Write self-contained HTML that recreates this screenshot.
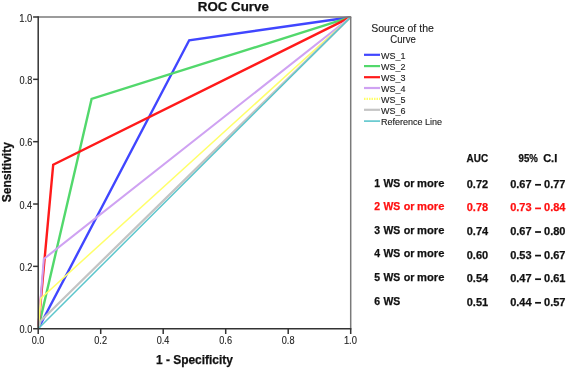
<!DOCTYPE html>
<html><head><meta charset="utf-8">
<style>
html,body{margin:0;padding:0;background:#fff;width:567px;height:368px;overflow:hidden}
svg{display:block;font-family:"Liberation Sans",sans-serif;will-change:transform}
</style></head><body>
<svg width="567" height="368" viewBox="0 0 567 368">
<text x="197.81" y="10.8" font-size="13" font-weight="bold" stroke="#111" stroke-width="0.25" fill="#111" textLength="71.05" lengthAdjust="spacingAndGlyphs">ROC Curve</text>
<g fill="none" stroke-linejoin="miter" stroke-miterlimit="10">
<polyline points="38.20,328.70 189.20,40.30 350.60,17.20" stroke="#4046ff" stroke-width="2.4"/>
<polyline points="38.20,328.70 91.60,98.90 350.60,17.20" stroke="#52d86c" stroke-width="2.4"/>
<polyline points="38.20,328.70 53.20,164.70 350.60,17.20" stroke="#ff1a1a" stroke-width="2.4"/>
<polyline points="38.20,328.70 43.80,259.00 350.60,17.20" stroke="#cfa2f2" stroke-width="2.1"/>
<polyline points="38.20,328.70 40.80,298.40 350.60,17.20" stroke="#ffff6a" stroke-width="1.5"/>
<polyline points="38.20,328.70 40.60,321.00 350.60,17.20" stroke="#c4c4c4" stroke-width="2.3"/>
<polyline points="38.20,328.70 350.60,17.20" stroke="#5cc6cc" stroke-width="1.5"/>
</g>
<line x1="38.2" y1="17.0" x2="351.3" y2="17.0" stroke="#7a7a7a" stroke-width="1.5"/>
<line x1="350.7" y1="17.0" x2="350.7" y2="328.7" stroke="#7a7a7a" stroke-width="1.5"/>
<line x1="38.2" y1="16.3" x2="38.2" y2="334.0" stroke="#333" stroke-width="1.5"/>
<line x1="33.1" y1="328.7" x2="351.4" y2="328.7" stroke="#333" stroke-width="1.5"/>
<g stroke="#333" stroke-width="1.5">
<line x1="33.1" y1="266.36" x2="38.2" y2="266.36"/>
<line x1="100.70" y1="328.7" x2="100.70" y2="334.0"/>
<line x1="33.1" y1="204.02" x2="38.2" y2="204.02"/>
<line x1="163.20" y1="328.7" x2="163.20" y2="334.0"/>
<line x1="33.1" y1="141.68" x2="38.2" y2="141.68"/>
<line x1="225.70" y1="328.7" x2="225.70" y2="334.0"/>
<line x1="33.1" y1="79.34" x2="38.2" y2="79.34"/>
<line x1="288.20" y1="328.7" x2="288.20" y2="334.0"/>
<line x1="33.1" y1="17.00" x2="38.2" y2="17.00"/>
<line x1="350.70" y1="328.7" x2="350.70" y2="334.0"/>
</g>
<text x="19.54" y="333.2" font-size="10.3" stroke="#222" stroke-width="0.12" fill="#222" textLength="12.71" lengthAdjust="spacingAndGlyphs">0.0</text>
<text x="31.74" y="343.9" font-size="10.3" stroke="#222" stroke-width="0.12" fill="#222" textLength="12.71" lengthAdjust="spacingAndGlyphs">0.0</text>
<text x="19.54" y="270.86" font-size="10.3" stroke="#222" stroke-width="0.12" fill="#222" textLength="12.82" lengthAdjust="spacingAndGlyphs">0.2</text>
<text x="94.24" y="343.9" font-size="10.3" stroke="#222" stroke-width="0.12" fill="#222" textLength="12.82" lengthAdjust="spacingAndGlyphs">0.2</text>
<text x="19.55" y="208.52" font-size="10.3" stroke="#222" stroke-width="0.12" fill="#222" textLength="12.62" lengthAdjust="spacingAndGlyphs">0.4</text>
<text x="156.75" y="343.9" font-size="10.3" stroke="#222" stroke-width="0.12" fill="#222" textLength="12.62" lengthAdjust="spacingAndGlyphs">0.4</text>
<text x="19.54" y="146.18" font-size="10.3" stroke="#222" stroke-width="0.12" fill="#222" textLength="12.76" lengthAdjust="spacingAndGlyphs">0.6</text>
<text x="219.24" y="343.9" font-size="10.3" stroke="#222" stroke-width="0.12" fill="#222" textLength="12.76" lengthAdjust="spacingAndGlyphs">0.6</text>
<text x="19.54" y="83.84" font-size="10.3" stroke="#222" stroke-width="0.12" fill="#222" textLength="12.76" lengthAdjust="spacingAndGlyphs">0.8</text>
<text x="281.74" y="343.9" font-size="10.3" stroke="#222" stroke-width="0.12" fill="#222" textLength="12.76" lengthAdjust="spacingAndGlyphs">0.8</text>
<text x="19.18" y="21.5" font-size="10.3" stroke="#222" stroke-width="0.12" fill="#222" textLength="13.08" lengthAdjust="spacingAndGlyphs">1.0</text>
<text x="343.88" y="343.9" font-size="10.3" stroke="#222" stroke-width="0.12" fill="#222" textLength="13.08" lengthAdjust="spacingAndGlyphs">1.0</text>
<text x="155.95" y="364" font-size="12" font-weight="bold" stroke="#111" stroke-width="0.25" fill="#111" textLength="77.02" lengthAdjust="spacingAndGlyphs">1 - Specificity</text>
<g transform="translate(10.5,201.9) rotate(-90)">
<text x="-0.35" y="0" font-size="12" font-weight="bold" stroke="#111" stroke-width="0.25" fill="#111" textLength="60.11" lengthAdjust="spacingAndGlyphs">Sensitivity</text>
</g>
<text x="371.22" y="31.7" font-size="10.2" stroke="#222" stroke-width="0.12" fill="#222" textLength="62.65" lengthAdjust="spacingAndGlyphs">Source of the</text>
<text x="390.31" y="42.6" font-size="10.2" stroke="#222" stroke-width="0.12" fill="#222" textLength="25.61" lengthAdjust="spacingAndGlyphs">Curve</text>
<line x1="364" y1="54.8" x2="380" y2="54.8" stroke="#4046ff" stroke-width="2.2"/>
<text x="381" y="58.6" font-size="9" stroke="#222" stroke-width="0.12" fill="#222">WS_1</text>
<line x1="364" y1="66.1" x2="380" y2="66.1" stroke="#52d86c" stroke-width="2.2"/>
<text x="381" y="69.9" font-size="9" stroke="#222" stroke-width="0.12" fill="#222">WS_2</text>
<line x1="364" y1="77.2" x2="380" y2="77.2" stroke="#ff1a1a" stroke-width="2.2"/>
<text x="381" y="81.0" font-size="9" stroke="#222" stroke-width="0.12" fill="#222">WS_3</text>
<line x1="364" y1="88.0" x2="380" y2="88.0" stroke="#cfa2f2" stroke-width="2.2"/>
<text x="381" y="91.8" font-size="9" stroke="#222" stroke-width="0.12" fill="#222">WS_4</text>
<line x1="364" y1="98.9" x2="380" y2="98.9" stroke="#ffff6a" stroke-width="2.2" stroke-dasharray="1.5 1"/>
<text x="381" y="102.7" font-size="9" stroke="#222" stroke-width="0.12" fill="#222">WS_5</text>
<line x1="364" y1="109.8" x2="380" y2="109.8" stroke="#c4c4c4" stroke-width="2.2"/>
<text x="381" y="113.6" font-size="9" stroke="#222" stroke-width="0.12" fill="#222">WS_6</text>
<line x1="364" y1="121.1" x2="380" y2="121.1" stroke="#5cc6cc" stroke-width="1.6"/>
<text x="381" y="124.9" font-size="9" stroke="#222" stroke-width="0.12" fill="#222">Reference Line</text>
<text x="466.55" y="162.0" font-size="10" font-weight="bold" stroke="#111" stroke-width="0.25" fill="#111" textLength="21.52" lengthAdjust="spacingAndGlyphs">AUC</text>
<text x="518.57" y="162.0" font-size="10" font-weight="bold" stroke="#111" stroke-width="0.25" fill="#111" textLength="19.29" lengthAdjust="spacingAndGlyphs">95%</text>
<text x="543.15" y="162.0" font-size="10" font-weight="bold" stroke="#111" stroke-width="0.25" fill="#111" textLength="14.09" lengthAdjust="spacingAndGlyphs">C.I</text>
<text x="374.24" y="186.5" font-size="11" font-weight="bold" stroke="#111" stroke-width="0.25" fill="#111" textLength="5.84" lengthAdjust="spacingAndGlyphs">1</text>
<text x="383.39" y="186.5" font-size="11" font-weight="bold" stroke="#111" stroke-width="0.25" fill="#111" textLength="16.82" lengthAdjust="spacingAndGlyphs">WS</text>
<text x="403.78" y="186.5" font-size="11" font-weight="bold" stroke="#111" stroke-width="0.25" fill="#111" textLength="10.78" lengthAdjust="spacingAndGlyphs">or</text>
<text x="417.06" y="186.5" font-size="11" font-weight="bold" stroke="#111" stroke-width="0.25" fill="#111" textLength="27.32" lengthAdjust="spacingAndGlyphs">more</text>
<text x="466.76" y="187.7" font-size="11" font-weight="bold" stroke="#111" stroke-width="0.25" fill="#111">0.72</text>
<text x="510.16" y="187.7" font-size="11" font-weight="bold" stroke="#111" stroke-width="0.25" fill="#111">0.67</text>
<rect x="535.1" y="183.95" width="5.9" height="1.7" fill="#111"/>
<text x="544.06" y="187.7" font-size="11" font-weight="bold" stroke="#111" stroke-width="0.25" fill="#111">0.77</text>
<text x="374.24" y="210.1" font-size="11" font-weight="bold" stroke="#ff1010" stroke-width="0.25" fill="#ff1010" textLength="5.84" lengthAdjust="spacingAndGlyphs">2</text>
<text x="383.39" y="210.1" font-size="11" font-weight="bold" stroke="#ff1010" stroke-width="0.25" fill="#ff1010" textLength="16.82" lengthAdjust="spacingAndGlyphs">WS</text>
<text x="403.78" y="210.1" font-size="11" font-weight="bold" stroke="#ff1010" stroke-width="0.25" fill="#ff1010" textLength="10.78" lengthAdjust="spacingAndGlyphs">or</text>
<text x="417.06" y="210.1" font-size="11" font-weight="bold" stroke="#ff1010" stroke-width="0.25" fill="#ff1010" textLength="27.32" lengthAdjust="spacingAndGlyphs">more</text>
<text x="466.76" y="211.3" font-size="11" font-weight="bold" stroke="#ff1010" stroke-width="0.25" fill="#ff1010">0.78</text>
<text x="510.16" y="211.3" font-size="11" font-weight="bold" stroke="#ff1010" stroke-width="0.25" fill="#ff1010">0.73</text>
<rect x="535.1" y="207.55" width="5.9" height="1.7" fill="#ff1010"/>
<text x="544.06" y="211.3" font-size="11" font-weight="bold" stroke="#ff1010" stroke-width="0.25" fill="#ff1010">0.84</text>
<text x="374.24" y="233.7" font-size="11" font-weight="bold" stroke="#111" stroke-width="0.25" fill="#111" textLength="5.84" lengthAdjust="spacingAndGlyphs">3</text>
<text x="383.39" y="233.7" font-size="11" font-weight="bold" stroke="#111" stroke-width="0.25" fill="#111" textLength="16.82" lengthAdjust="spacingAndGlyphs">WS</text>
<text x="403.78" y="233.7" font-size="11" font-weight="bold" stroke="#111" stroke-width="0.25" fill="#111" textLength="10.78" lengthAdjust="spacingAndGlyphs">or</text>
<text x="417.06" y="233.7" font-size="11" font-weight="bold" stroke="#111" stroke-width="0.25" fill="#111" textLength="27.32" lengthAdjust="spacingAndGlyphs">more</text>
<text x="466.76" y="234.9" font-size="11" font-weight="bold" stroke="#111" stroke-width="0.25" fill="#111">0.74</text>
<text x="510.16" y="234.9" font-size="11" font-weight="bold" stroke="#111" stroke-width="0.25" fill="#111">0.67</text>
<rect x="535.1" y="231.15" width="5.9" height="1.7" fill="#111"/>
<text x="544.06" y="234.9" font-size="11" font-weight="bold" stroke="#111" stroke-width="0.25" fill="#111">0.80</text>
<text x="374.24" y="257.3" font-size="11" font-weight="bold" stroke="#111" stroke-width="0.25" fill="#111" textLength="5.84" lengthAdjust="spacingAndGlyphs">4</text>
<text x="383.39" y="257.3" font-size="11" font-weight="bold" stroke="#111" stroke-width="0.25" fill="#111" textLength="16.82" lengthAdjust="spacingAndGlyphs">WS</text>
<text x="403.78" y="257.3" font-size="11" font-weight="bold" stroke="#111" stroke-width="0.25" fill="#111" textLength="10.78" lengthAdjust="spacingAndGlyphs">or</text>
<text x="417.06" y="257.3" font-size="11" font-weight="bold" stroke="#111" stroke-width="0.25" fill="#111" textLength="27.32" lengthAdjust="spacingAndGlyphs">more</text>
<text x="466.76" y="258.5" font-size="11" font-weight="bold" stroke="#111" stroke-width="0.25" fill="#111">0.60</text>
<text x="510.16" y="258.5" font-size="11" font-weight="bold" stroke="#111" stroke-width="0.25" fill="#111">0.53</text>
<rect x="535.1" y="254.75" width="5.9" height="1.7" fill="#111"/>
<text x="544.06" y="258.5" font-size="11" font-weight="bold" stroke="#111" stroke-width="0.25" fill="#111">0.67</text>
<text x="374.24" y="280.9" font-size="11" font-weight="bold" stroke="#111" stroke-width="0.25" fill="#111" textLength="5.84" lengthAdjust="spacingAndGlyphs">5</text>
<text x="383.39" y="280.9" font-size="11" font-weight="bold" stroke="#111" stroke-width="0.25" fill="#111" textLength="16.82" lengthAdjust="spacingAndGlyphs">WS</text>
<text x="403.78" y="280.9" font-size="11" font-weight="bold" stroke="#111" stroke-width="0.25" fill="#111" textLength="10.78" lengthAdjust="spacingAndGlyphs">or</text>
<text x="417.06" y="280.9" font-size="11" font-weight="bold" stroke="#111" stroke-width="0.25" fill="#111" textLength="27.32" lengthAdjust="spacingAndGlyphs">more</text>
<text x="466.76" y="282.1" font-size="11" font-weight="bold" stroke="#111" stroke-width="0.25" fill="#111">0.54</text>
<text x="510.16" y="282.1" font-size="11" font-weight="bold" stroke="#111" stroke-width="0.25" fill="#111">0.47</text>
<rect x="535.1" y="278.35" width="5.9" height="1.7" fill="#111"/>
<text x="544.06" y="282.1" font-size="11" font-weight="bold" stroke="#111" stroke-width="0.25" fill="#111">0.61</text>
<text x="374.24" y="304.5" font-size="11" font-weight="bold" stroke="#111" stroke-width="0.25" fill="#111" textLength="5.84" lengthAdjust="spacingAndGlyphs">6</text>
<text x="383.39" y="304.5" font-size="11" font-weight="bold" stroke="#111" stroke-width="0.25" fill="#111" textLength="16.82" lengthAdjust="spacingAndGlyphs">WS</text>
<text x="466.76" y="305.7" font-size="11" font-weight="bold" stroke="#111" stroke-width="0.25" fill="#111">0.51</text>
<text x="510.16" y="305.7" font-size="11" font-weight="bold" stroke="#111" stroke-width="0.25" fill="#111">0.44</text>
<rect x="535.1" y="301.95" width="5.9" height="1.7" fill="#111"/>
<text x="544.06" y="305.7" font-size="11" font-weight="bold" stroke="#111" stroke-width="0.25" fill="#111">0.57</text>
</svg>
</body></html>
